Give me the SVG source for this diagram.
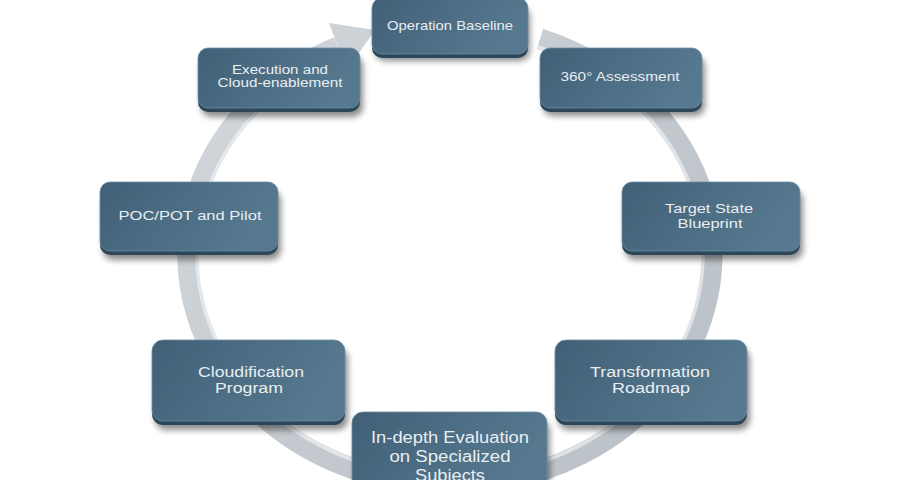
<svg xmlns="http://www.w3.org/2000/svg" width="900" height="480" viewBox="0 0 900 480">
<defs>
<linearGradient id="ringG" gradientUnits="userSpaceOnUse" x1="188" y1="25" x2="712" y2="485">
<stop offset="0" stop-color="#d4d8dc"/>
<stop offset="0.5" stop-color="#c4cacf"/>
<stop offset="1" stop-color="#b9c0c6"/>
</linearGradient>
<linearGradient id="boxG" x1="0" y1="0" x2="1" y2="0.3">
<stop offset="0" stop-color="#416077"/>
<stop offset="1" stop-color="#56798f"/>
</linearGradient>
<filter id="sh" x="-20%" y="-20%" width="140%" height="160%">
<feGaussianBlur stdDeviation="3"/>
</filter>
<style>
.sh{fill:#000;opacity:0.45;filter:url(#sh)}
.edge{fill:#2c475a}
.box{fill:url(#boxG);stroke:#6d8ea3;stroke-width:0.8}
.t{font-family:"Liberation Sans",Arial,sans-serif;fill:#e8eef2;text-anchor:middle}
</style>
</defs>
<rect width="900" height="480" fill="#ffffff"/>
<g id="connectors">
<path d="M540,39 A262,230 0 1 1 338,47" fill="none" stroke="url(#ringG)" stroke-width="21"/>
<path d="M540,39 A262,230 0 1 1 338,47" fill="none" stroke="#eef1f3" stroke-width="4" transform="translate(450 255) scale(0.965) translate(-450 -255)" opacity="0.7"/>
<polygon points="329,23 347,70 375,30" fill="#cdd2d6"/>
</g>
<g id="n1">
<rect class="sh" x="375" y="6" width="155" height="55" rx="10"/>
<rect class="edge" x="372" y="2" width="156" height="56" rx="10"/>
<rect class="box" x="372" y="-2" width="156" height="56" rx="10"/>
<text class="t" x="450" y="30" font-size="13.5" textLength="126" lengthAdjust="spacingAndGlyphs">Operation Baseline</text>
</g>
<g id="n2">
<rect class="sh" x="543" y="56" width="162" height="60" rx="10"/>
<rect class="edge" x="540" y="52" width="162" height="60" rx="10"/>
<rect class="box" x="540" y="48" width="162" height="60" rx="10"/>
<text class="t" x="620" y="81" font-size="13.5" textLength="119" lengthAdjust="spacingAndGlyphs">360° Assessment</text>
</g>
<g id="n3">
<rect class="sh" x="625" y="190" width="178" height="70" rx="10"/>
<rect class="edge" x="622" y="186" width="178" height="69" rx="10"/>
<rect class="box" x="622" y="182" width="178" height="69" rx="10"/>
<text class="t" x="709" y="213" font-size="13.5" textLength="88" lengthAdjust="spacingAndGlyphs">Target State</text>
<text class="t" x="710" y="228" font-size="13.5" textLength="65" lengthAdjust="spacingAndGlyphs">Blueprint</text>
</g>
<g id="n4">
<rect class="sh" x="558" y="348" width="192" height="82" rx="11"/>
<rect class="edge" x="555" y="344" width="192" height="81" rx="11"/>
<rect class="box" x="555" y="340" width="192" height="81" rx="11"/>
<text class="t" x="650" y="377" font-size="15.5" textLength="120" lengthAdjust="spacingAndGlyphs">Transformation</text>
<text class="t" x="651" y="393" font-size="15.5" textLength="78" lengthAdjust="spacingAndGlyphs">Roadmap</text>
</g>
<g id="n5">
<rect class="sh" x="355" y="420" width="195" height="80" rx="11"/>
<rect class="edge" x="352" y="416" width="195" height="80" rx="11"/>
<rect class="box" x="352" y="412" width="195" height="80" rx="11"/>
<text class="t" x="450" y="443" font-size="16" textLength="158" lengthAdjust="spacingAndGlyphs">In-depth Evaluation</text>
<text class="t" x="450" y="462" font-size="16" textLength="121" lengthAdjust="spacingAndGlyphs">on Specialized</text>
<text class="t" x="450" y="481" font-size="16" textLength="70" lengthAdjust="spacingAndGlyphs">Subjects</text>
</g>
<g id="n6">
<rect class="sh" x="155" y="348" width="193" height="82" rx="11"/>
<rect class="edge" x="152" y="344" width="193" height="81" rx="11"/>
<rect class="box" x="152" y="340" width="193" height="81" rx="11"/>
<text class="t" x="251" y="377" font-size="15.5" textLength="106" lengthAdjust="spacingAndGlyphs">Cloudification</text>
<text class="t" x="249" y="393" font-size="15.5" textLength="68" lengthAdjust="spacingAndGlyphs">Program</text>
</g>
<g id="n7">
<rect class="sh" x="103" y="190" width="178" height="70" rx="10"/>
<rect class="edge" x="100" y="186" width="178" height="69" rx="10"/>
<rect class="box" x="100" y="182" width="178" height="69" rx="10"/>
<text class="t" x="190" y="220" font-size="13.5" textLength="143" lengthAdjust="spacingAndGlyphs">POC/POT and Pilot</text>
</g>
<g id="n8">
<rect class="sh" x="201" y="56" width="162" height="61" rx="10"/>
<rect class="edge" x="198" y="52" width="162" height="60" rx="10"/>
<rect class="box" x="198" y="48" width="162" height="60" rx="10"/>
<text class="t" x="280" y="74" font-size="12" textLength="96" lengthAdjust="spacingAndGlyphs">Execution and</text>
<text class="t" x="280" y="87" font-size="12" textLength="125" lengthAdjust="spacingAndGlyphs">Cloud-enablement</text>
</g>
</svg>
